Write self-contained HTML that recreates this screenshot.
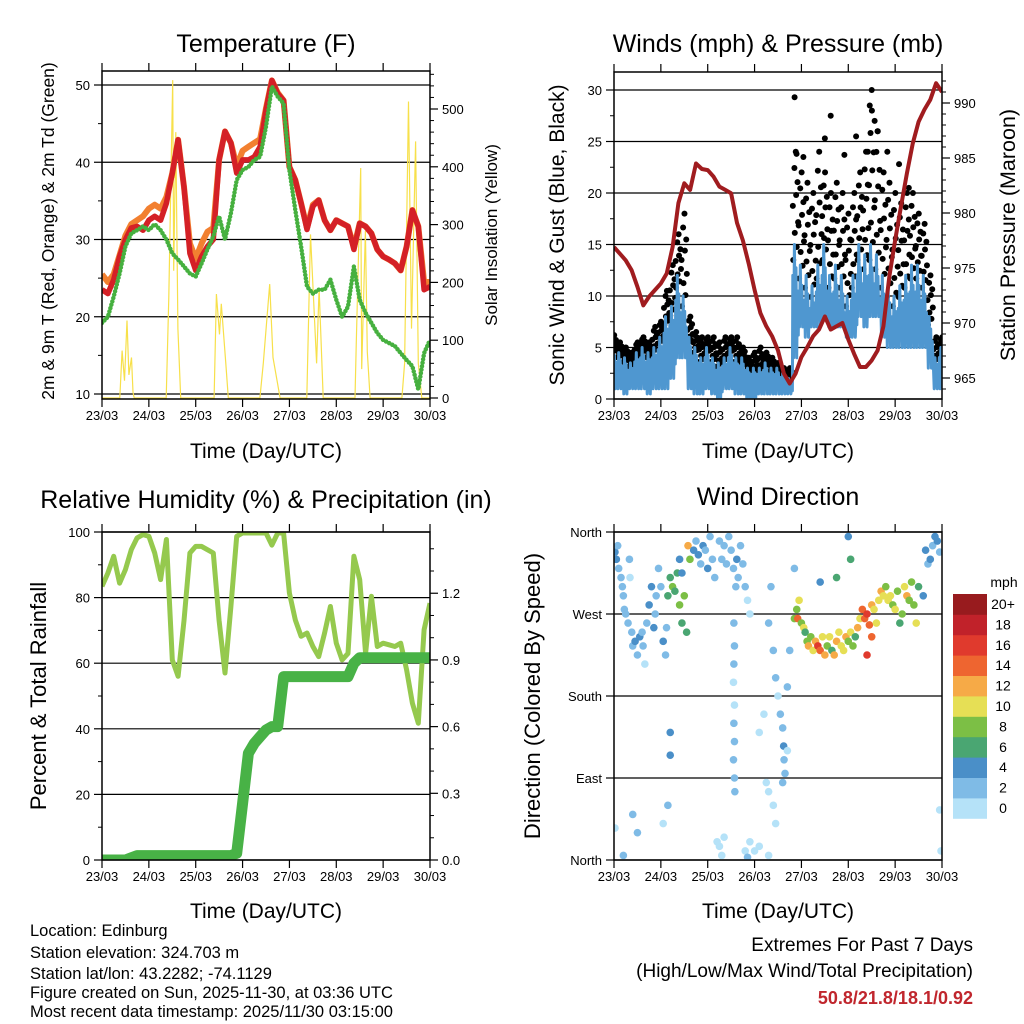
<!DOCTYPE html>
<html><head><meta charset="utf-8">
<style>
html,body{margin:0;padding:0;background:#fff;}
svg{display:block;font-family:"Liberation Sans",Arial,sans-serif;}
</style></head>
<body>
<svg id="root" width="1024" height="1024" viewBox="0 0 1024 1024" xmlns="http://www.w3.org/2000/svg">
<defs>
<clipPath id="c1"><rect x="102" y="71" width="328" height="328"/></clipPath>
<clipPath id="c2"><rect x="614" y="72" width="328" height="327"/></clipPath>
<clipPath id="c3"><rect x="102" y="532" width="328" height="328"/></clipPath>
<clipPath id="c4"><rect x="614" y="532" width="328" height="328"/></clipPath>
</defs>
<g font-size="25" text-anchor="middle" fill="#000">
<text x="266" y="52">Temperature (F)</text>
<text x="778" y="52">Winds (mph) &amp; Pressure (mb)</text>
<text x="266" y="508">Relative Humidity (%) &amp; Precipitation (in)</text>
<text x="778" y="505">Wind Direction</text>
</g>
<g font-size="21" text-anchor="middle">
<text x="266" y="458">Time (Day/UTC)</text>
<text x="778" y="458">Time (Day/UTC)</text>
<text x="266" y="918">Time (Day/UTC)</text>
<text x="778" y="918">Time (Day/UTC)</text>
<text transform="translate(54,231) rotate(-90)" font-size="17.5">2m &amp; 9m T (Red, Orange) &amp; 2m Td (Green)</text>
<text transform="translate(497,235) rotate(-90)" font-size="17">Solar Insolation (Yellow)</text>
<text transform="translate(564,235) rotate(-90)">Sonic Wind &amp; Gust (Blue, Black)</text>
<text transform="translate(1015,235) rotate(-90)" font-size="21.5">Station Pressure (Maroon)</text>
<text transform="translate(46,696) rotate(-90)" font-size="22">Percent &amp; Total Rainfall</text>
<text transform="translate(540,696) rotate(-90)" font-size="22">Direction (Colored By Speed)</text>
</g>
<g font-size="16.5">
<text x="30" y="936">Location: Edinburg</text>
<text x="30" y="958">Station elevation: 324.703 m</text>
<text x="30" y="979">Station lat/lon: 43.2282; -74.1129</text>
<text x="30" y="998">Figure created on Sun, 2025-11-30, at 03:36 UTC</text>
<text x="30" y="1017">Most recent data timestamp: 2025/11/30 03:15:00</text>
</g>
<g font-size="19" text-anchor="end">
<text x="973" y="951">Extremes For Past 7 Days</text>
<text x="973" y="977">(High/Low/Max Wind/Total Precipitation)</text>
<text x="973" y="1004" fill="#c0262d" font-weight="bold" font-size="18">50.8/21.8/18.1/0.92</text>
</g>
<g id="layer"></g>
</svg>
<script>
// ---- data (3-hourly, hours since 23/03 00Z) ----
const hours=[0,3,6,9,12,15,18,21,24,27,30,33,36,39,42,45,48,51,54,57,60,63,66,69,72,75,78,81,84,87,90,93,96,99,102,105,108,111,114,117,120,123,126,129,132,135,138,141,144,147,150,153,156,159,162,165,168];
const dayLabels=["23/03","24/03","25/03","26/03","27/03","28/03","29/03","30/03"];
const temp9m=[23.5,23,24.8,27.8,30,31.5,31.7,31.2,32.5,33,32.5,34.7,38.6,42.9,36.8,28.2,26,27.8,29.1,30,40.3,44,42.5,38.6,40.3,40.3,40.7,42,46.8,50.6,48.9,48,39.4,37.7,34.7,31.3,34.3,35.1,32.5,31.2,32.5,32.1,31.7,28.7,32.1,31.7,30.8,28.7,27.8,27.4,26.9,26,29.1,33.8,31.7,23.5,23.9];
const temp2m=[25.5,24.5,25.5,28,30.5,32,32.5,33,34,34.5,34,35.5,38.6,42.9,36.8,29.5,27.5,29.5,31,31.5,40.3,44,42.5,39.5,41.5,42,42.5,43,47,50.6,49,48,39.4,37.7,34.7,31.5,34.5,35.1,32.5,31.2,32.5,32.1,31.7,29,32.1,31.7,30.8,28.7,27.8,27.4,26.9,26,29.1,33.8,31.7,24.5,24.5];
const dewpoint=[19.2,20,22.6,25.6,29.1,30.8,31.2,31.7,31.2,32,31.2,30,28.2,27.4,26.5,25.6,25.2,26.9,28.7,30.4,33,30,33.4,37.7,39,39.4,40.3,40.7,44.6,49.8,48.5,47.6,39,33.8,29.1,23.9,23,23.5,23.5,24.8,22.2,20,21.3,26.5,22.2,20.5,19.2,17.9,17,16.6,16.2,15.3,14.4,13.6,10.6,15.3,17];
const solarHours=[0,9.1,10.3,11.5,12.8,13.8,15.1,15.9,16.5,18.5,24,32.9,34.2,35.5,36.2,36.7,37.8,38.9,40.3,42.5,48,57.4,58.6,60.2,61.1,63.4,64.7,67.2,72,80.9,82.6,85.9,87.6,91.2,96,104.9,106.8,109.9,111.2,113.3,120,129.6,130.2,132.5,133,134.9,135.9,137.3,140.6,144,153.6,155,157,158.5,160.6,162,163.8,168];
const solarVals=[0,0,82,30,134,40,70,10,0,0,0,0,174,416,550,220,460,120,0,0,0,0,180,110,163,60,0,0,0,0,60,197,70,0,0,0,283,60,190,0,0,0,90,398,50,289,80,0,0,0,0,60,513,120,444,60,0,0];
const windHi=[5,4.5,4,3.5,4.5,5,4.5,5,6,8,9,12,10,6,5,4,5,4,3.5,4,5,4,4,3,3,3,3.5,3,3,2.5,2,15,13,12,11,13,15,12,13,12,10,12,15,14,15,14,12,11,10,11,12,13,13,12,8,4,5];
const windLo=[1,1,0.5,1,1,1,0.5,1,1,1,2,4,4,1,0.5,0.5,1,0.5,0,1,1,0.5,0.5,0,0,0.5,0.5,0.5,0.5,0.5,0.5,4,7,6,7,7,8,7,7,7,6,6,8,7,8,8,6,5,5,5,5,5,5,5,3,1,1];
const gustHi=[6.2,5.5,5,4.5,5.5,6,5.5,7,7.5,10.5,13,16,18,8,6.5,6,6,6,5.5,6,6,6,5,4,4.5,5,4.5,4,3.5,3,3,24,22,21,20,24,22,20,21,20,18,20,22,24,28,26,22,21,20,19,20,20,18,17,12,6,6];
const gustOutHours=[92.5,93.5,97,108,111,124,131,132,133.5,130,135,151,146,140,118];
const gustOutVals=[29.3,23.8,23.5,25.3,27.5,25.5,28.5,30,27,24,26,20.5,22.8,24,23.7];
const pressure=[976.9,976.3,975.7,974.8,973.3,971.6,972.4,973,973.6,974.5,976.9,980.9,982.7,982.1,984.5,984,983.9,983.3,982.4,982.1,981.8,979.1,977.5,975.4,973,970.9,969.7,968.8,967.5,965.4,964.5,965.4,966.9,967.8,968.8,969.4,970.6,969.4,969.7,970,968.5,967.2,966,966,966.6,967.5,969.7,974.2,977.5,980.6,983.6,986.3,988.3,989.4,990.3,991.8,991];
const rh=[83.4,87.5,92.6,84.4,88.5,94.6,98.2,99.2,98.7,93.6,85.5,97.7,61,56,73,93.6,95.6,95.6,94.6,93.6,73,57,77.3,98.7,99.7,99.7,99.7,99.7,99.7,96,99.7,99.7,81.4,73.2,68.2,69.2,65.1,62,69.2,77.3,66.1,61,63,92.6,85.5,63,80.4,65.1,66.1,65.6,65.1,66.1,58,47.8,41.7,70.2,78.3];
const precip=[0,0,0,0,0,0.01,0.02,0.02,0.02,0.02,0.02,0.02,0.02,0.02,0.02,0.02,0.02,0.02,0.02,0.02,0.02,0.02,0.02,0.03,0.255,0.48,0.525,0.555,0.585,0.6,0.6,0.825,0.825,0.825,0.825,0.825,0.825,0.825,0.825,0.825,0.825,0.825,0.825,0.885,0.91,0.91,0.91,0.91,0.91,0.91,0.91,0.91,0.91,0.91,0.91,0.91,0.91];
const dirHours=[0.5,1.2,1.9,2.4,3.6,4.3,4.8,5.3,6,7.2,7.9,8.2,9.1,9.6,10.8,12,13.2,14.4,14.9,15.8,16.8,18,19.2,20.4,21.1,21.6,22.8,24,25.2,26.4,26.9,27.6,28.8,30,31.2,32.4,33.6,34.8,36,37.2,37.9,38.9,33.6,34.8,40.8,42,43.2,44.4,45.6,46.8,48,49.2,50.4,51.6,54,55.2,56.4,57.6,58.8,60,61.2,62.4,62.9,63.6,64.8,66,67.2,68.4,69.6,61.4,61.7,61.4,61.2,61.7,61.4,61.7,61.2,61.7,61.9,52.8,54,55.2,56.4,67.2,68.4,69.6,72,74.4,79.2,0.5,4.8,9.6,12,27.6,28.8,28.8,25.2,79.2,82.8,166.8,167.5,81.6,82.8,84,85.2,86.4,86.9,87.1,87.6,86.4,81.6,74.4,76.8,78,88.8,90,88.8,79.2,80.4,92.4,93.6,94.1,94.8,96,97.2,97.9,98.9,99.6,100.8,102,103.2,104.4,105.6,106.8,108,109.2,110.4,111.6,112.8,114,115.2,116.4,117.6,118.8,120,121.2,122.4,123.6,124.8,126,127.2,128.4,129.6,130.8,132,133.2,134.4,135.6,136.8,138,139.2,140.4,141.6,142.8,144,145.2,146.4,147.6,148.8,150,151.2,152.4,153.6,154.8,156,158.4,159.6,160.8,162,163.2,164.4,165.6,166.8,120,121.2,105.6,92.4,114,129.6,132];
const dirDeg=[338,330,345,320,310,300,290,275,270,260,330,310,250,235,240,225,245,250,235,215,260,280,300,255,270,290,320,300,240,225,255,290,310,300,295,315,280,260,290,250,345,330,330,315,340,350,335,325,345,340,320,355,330,310,350,330,345,325,355,340,320,300,330,310,345,325,300,285,270,260,235,215,195,170,150,130,110,90,75,20,15,5,25,10,3,20,10,15,5,35,5,50,30,60,140,115,40,75,40,55,10,230,200,180,160,145,125,110,95,85,60,140,160,85,120,230,190,260,300,265,275,265,285,260,255,250,240,235,245,230,240,235,230,245,225,235,245,230,225,240,250,235,230,245,240,250,235,245,255,265,275,265,270,258,280,275,260,285,295,290,300,285,290,280,275,295,260,270,300,290,285,305,280,260,300,290,340,325,330,345,355,350,338,355,330,305,320,310,225,245,270];
const dirSpd=[4,4,3,2,2,2,2,2,2,2,2,1,2,2,4,3,4,2,2,1,2,4,4,4,3,2,2,2,4,2,2,6,7,8,7,7,8,7,8,6,12,9,4,4,4,3,4,3,4,3,4,2,3,2,2,2,3,2,3,2,2,2,4,2,3,2,2,1,1,2,2,2,1,1,2,3,2,2,2,1,1,1,1,1,2,1,1,1,1,1,2,2,2,2,4,4,1,1,1,1,1,2,2,1,2,2,4,2,2,2,1,1,1,1,1,2,2,2,2,8,8,14,10,8,10,6,8,12,8,10,12,16,14,10,12,8,10,6,12,12,10,10,10,12,8,10,8,6,12,10,14,14,16,14,12,10,10,10,12,10,8,10,10,8,10,8,6,8,10,12,8,8,8,10,6,4,4,2,4,2,4,4,3,4,6,4,2,6,16,14];
const spdColors=["#b5e2f8","#7fbbe6","#4a8fc8","#4aa672","#7cbf45","#e6df55","#f6aa47","#ee6530","#e03a2d","#c1222a","#981b1e"];
const cbarLabels=["0","2","4","6","8","10","12","14","16","18","20+"];

// ---- helpers ----
const NS="http://www.w3.org/2000/svg";
const layer=document.getElementById('layer');
function mk(tag,attrs,parent){const e=document.createElementNS(NS,tag);for(const k in attrs)e.setAttribute(k,attrs[k]);(parent||layer).appendChild(e);return e;}
function txt(x,y,s,anchor,size,parent){const e=mk('text',{x:x,y:y,'text-anchor':anchor,'font-size':size},parent);e.textContent=s;return e;}
const P1={l:102,r:430,t:71,b:399},P2={l:614,r:942,t:72,b:399},P3={l:102,r:430,t:532,b:860},P4={l:614,r:942,t:532,b:860};
const xs=(P)=>(h)=>P.l+h*(P.r-P.l)/168;
const yTemp=v=>394-(v-10)*7.725, ySolar=v=>398-v*0.578;
const yWind=v=>399-v*10.3, yPres=v=>378-(v-965)*11;
const yRH=v=>860-v*3.28, yPre=v=>860-v*222.3;
const yDir=d=>860-d*328/360;

function frame(P,name,leftMaj,leftMin,yL,leftLab,rightMaj,rightMin,yR,rightLab){
  const g=mk('g',{});
  
  
  const X=xs(P);
  leftMaj.forEach((v,i)=>{const y=yL(v);
    const gl=mk('line',{x1:P.l,x2:P.r,y1:y,y2:y,stroke:'#000','stroke-width':1.2},g);
    
    
    mk('line',{x1:P.l-8,x2:P.l,y1:y,y2:y,stroke:'#000','stroke-width':1.2},g);
    const t=txt(P.l-12,y+5,leftLab[i],'end',13,g);
    
    });
  leftMin.forEach(v=>{const y=yL(v);mk('line',{x1:P.l-4,x2:P.l,y1:y,y2:y,stroke:'#000','stroke-width':1},g);});
  if(rightMaj){rightMaj.forEach((v,i)=>{const y=yR(v);
    mk('line',{x1:P.r,x2:P.r+8,y1:y,y2:y,stroke:'#000','stroke-width':1.2},g);
    const t=txt(P.r+12,y+5,rightLab[i],'start',13,g);
    
    });
  rightMin.forEach(v=>{const y=yR(v);mk('line',{x1:P.r,x2:P.r+4,y1:y,y2:y,stroke:'#000','stroke-width':1},g);});}
  dayLabels.forEach((s,i)=>{const x=X(i*24);
    mk('line',{x1:x,x2:x,y1:P.b,y2:P.b+8,stroke:'#000','stroke-width':1.2},g);
    mk('line',{x1:x,x2:x,y1:P.t-8,y2:P.t,stroke:'#000','stroke-width':1.2},g);
    const t=txt(x,P.b+21,s,'middle',13,g);
    
    });
  return g;
}
function border(P,name){const b=mk('rect',{x:P.l,y:P.t,width:P.r-P.l,height:P.b-P.t,fill:'none',stroke:'#000','stroke-width':1.5});
  
  }
function pathOf(hs,vs,X,Y){return hs.map((h,i)=>(i?'L':'M')+X(h).toFixed(1)+','+Y(vs[i]).toFixed(1)).join('');}
function range(a,b,s){const r=[];for(let v=a;v<=b+1e-9;v+=s)r.push(+v.toFixed(3));return r;}

// ---- Panel 1: temperature ----
frame(P1,'temperature',[10,20,30,40,50],range(15,50,5).filter(v=>v%10),yTemp,["10","20","30","40","50"],
  [0,100,200,300,400,500],range(20,560,20).filter(v=>v%100),ySolar,["0","100","200","300","400","500"]);
{const X=xs(P1);const g=mk('g',{'clip-path':'url(#c1)'});
 const s=mk('path',{d:pathOf(solarHours,solarVals,X,ySolar),fill:'none',stroke:'#f7e04a','stroke-width':1.2},g);
 
 
 const o=mk('path',{d:pathOf(hours,temp2m,X,yTemp),fill:'none',stroke:'#f28030','stroke-width':6,'stroke-linejoin':'round'},g);
 
 
 const r=mk('path',{d:pathOf(hours,temp9m,X,yTemp),fill:'none',stroke:'#d42026','stroke-width':5.5,'stroke-linejoin':'round'},g);
 
 
 const d=mk('path',{d:pathOf(hours,dewpoint,X,yTemp),fill:'none',stroke:'#46b03f','stroke-width':4.5,'stroke-linecap':'round','stroke-dasharray':'0 3.5'},g);
 
 }
border(P1,'temperature');

// ---- Panel 2: winds & pressure ----
frame(P2,'winds',[0,5,10,15,20,25,30],range(2.5,30,2.5).filter(v=>v%5),yWind,["0","5","10","15","20","25","30"],
  [965,970,975,980,985,990],range(964,992,1).filter(v=>v%5),yPres,["965","970","975","980","985","990"]);
{const X=xs(P2);const g=mk('g',{'clip-path':'url(#c2)'});
 const gg=mk('g',{},g);
 
 
 const fr=[0,0.12,0.25,0.35,0.5,0.6,0.72,0.85,1];
 const off=[-1.2,0.6,-0.4,1.3,-1.4,0.3,1.0,-0.6,0.1];
 hours.forEach((h,i)=>{const lo=windHi[i]*0.9,hi=gustHi[i];
   fr.forEach((f,k)=>{mk('circle',{cx:X(h+off[k]),cy:yWind(lo+(hi-lo)*f),r:3,fill:'#000'},gg);});});
 gustOutHours.forEach((h,i)=>{mk('circle',{cx:X(h),cy:yWind(gustOutVals[i]),r:3,fill:'#000'},gg);});
 const wg=mk('g',{},g);
 
 
 let d='';
 hours.forEach((h,i)=>{const hi=windHi[i],lo=windLo[i];
   const seq=[[h-1.4,hi*0.8],[h-1.0,lo],[h-0.6,hi],[h-0.2,lo+(hi-lo)*0.3],[h+0.2,hi*0.85],[h+0.6,lo],[h+1.0,hi*0.7],[h+1.4,lo+(hi-lo)*0.2]];
   seq.forEach((p,k)=>{d+=(i===0&&k===0?'M':'L')+X(p[0]).toFixed(1)+','+yWind(p[1]).toFixed(1);});});
 mk('path',{d:d,fill:'none',stroke:'#4f97d0','stroke-width':3,'stroke-linejoin':'round'},wg);
 const p=mk('path',{d:pathOf(hours,pressure,X,yPres),fill:'none',stroke:'#a01c1f','stroke-width':4,'stroke-linejoin':'round'},g);
 
 }
border(P2,'winds');

// ---- Panel 3: humidity & precipitation ----
frame(P3,'humidity',[0,20,40,60,80,100],range(10,90,10).filter(v=>v%20),yRH,["0","20","40","60","80","100"],
  [0,0.3,0.6,0.9,1.2],range(0.1,1.4,0.1).filter(v=>Math.abs(v*10%3)>0.01),yPre,["0.0","0.3","0.6","0.9","1.2"]);
{const X=xs(P3);const g=mk('g',{'clip-path':'url(#c3)'});
 const r=mk('path',{d:pathOf(hours,rh,X,yRH),fill:'none',stroke:'#95c94e','stroke-width':5,'stroke-linejoin':'round'},g);
 
 
 const p=mk('path',{d:pathOf(hours,precip,X,yPre),fill:'none',stroke:'#48b246','stroke-width':11,'stroke-linecap':'round','stroke-linejoin':'round'},g);
 
 }
border(P3,'humidity');

// ---- Panel 4: wind direction ----
frame(P4,'direction',[0,90,180,270,360],[],yDir,["North","East","South","West","North"],null,null,null,null);
{const X=xs(P4);const g=mk('g',{'clip-path':'url(#c4)'});
 
 
 dirHours.forEach((h,i)=>{const c=spdColors[Math.min(10,Math.floor(dirSpd[i]/2))];
   mk('circle',{cx:X(h),cy:yDir(dirDeg[i]),r:3.8,fill:c},g);});}
border(P4,'direction');
{const g=mk('g',{});
 
 
 txt(1004,587,'mph','middle',14,g);
 spdColors.forEach((c,i)=>{const y=798-i*20.4;
   mk('rect',{x:953,y:y,width:34,height:20.8,fill:c},g);
   const t=txt(1003,y+15,cbarLabels[i],'middle',14,g);
   
   });}
</script>
</body></html>
